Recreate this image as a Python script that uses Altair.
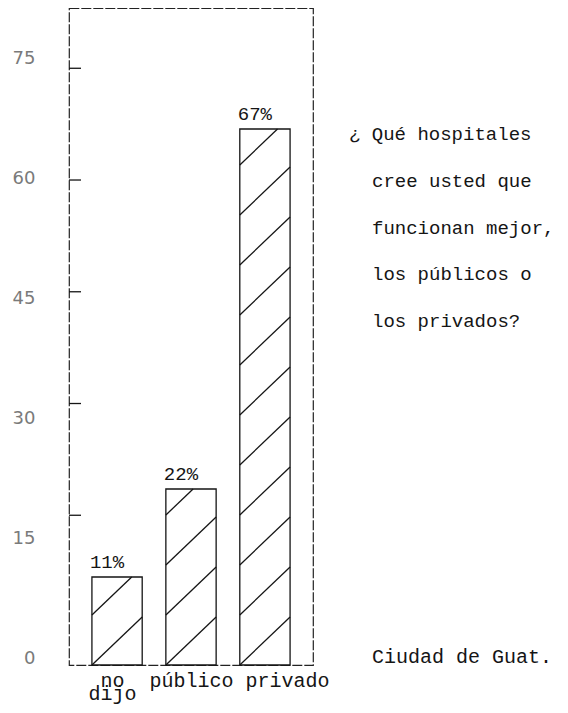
import json
import altair as alt
import pandas as pd

# ---- data ----
categories = ["no dijo", "público", "privado"]
percent = [11, 22, 67]
pct_labels = ["11%", "22%", "67%"]
y_values = [0, 15, 30, 45, 60, 75]
tick_values = [15, 30, 45, 60, 75]
question_first = "¿ Qué hospitales"
question_rest = ["cree usted que", "funcionan mejor,", "los públicos o", "los privados?"]
place = "Ciudad de Guat."

# ---- styling constants ----
HALF = 0.34        # half bar width (x units)
SPACING = 6.25     # vertical spacing of hatch lines (y units)
RISE = 6.0         # rise of a hatch line across the bar (y units)
MONO = "Liberation Mono"
INK = "#151515"
Y_DOMAIN = [0, 82.125]
X_DOMAIN = [-0.65, 2.65]

bars = pd.DataFrame({"pos": list(range(len(categories))), "cat": categories,
                     "pct": percent, "label": pct_labels})

segs = []
for i, v in enumerate(percent):
    left, right = i - HALF, i + HALF
    w = right - left
    k = 0
    while k * SPACING < v:
        y0 = k * SPACING
        y1 = y0 + RISE
        if y1 <= v:
            xe, ye = right, y1
        else:
            xe, ye = left + (v - y0) / RISE * w, v
        segs.append({"xa": left, "ya": y0, "xb": xe, "yb": ye})
        k += 1
hatch = pd.DataFrame(segs)

xscale = alt.Scale(domain=X_DOMAIN, nice=False, zero=False)
yscale = alt.Scale(domain=Y_DOMAIN, nice=False, zero=False)

cat_js = json.dumps(categories, ensure_ascii=False)

x_axis = alt.Axis(
    values=list(range(len(categories))),
    labelExpr=f"split({cat_js}[datum.value], ' ')",
    domain=False, ticks=False, tickSize=0, grid=False, title=None,
    labelFont=MONO, labelFontSize=20, labelColor=INK, labelPadding=5,
    labelLineHeight=13, labelFlush=False, labelOverlap=False,
    labelOffset={"condition": [{"test": "datum.value == 2", "value": 22},
                               {"test": "datum.value == 0", "value": -5}],
                 "value": 0},
)
y_axis = alt.Axis(
    values=y_values, domain=False, ticks=False, tickSize=0, grid=False, title=None,
    labelFont="DejaVu Sans", labelFontSize=18, labelColor="#7a7a7a",
    labelPadding=34, labelOffset=-7, labelFlush=False, labelOverlap=False,
)

base = alt.Chart(bars).transform_calculate(
    lo=f"datum.pos - {HALF}", hi=f"datum.pos + {HALF}", zero="0"
)

bar_layer = base.mark_rect(fill="white", stroke=INK, strokeWidth=1.3).encode(
    x=alt.X("lo:Q", scale=xscale, axis=x_axis),
    x2="hi:Q",
    y=alt.Y("zero:Q", scale=yscale, axis=y_axis),
    y2="pct:Q",
)

hatch_layer = alt.Chart(hatch).mark_rule(color=INK, strokeWidth=1.3).encode(
    x=alt.X("xa:Q", scale=xscale),
    x2="xb:Q",
    y=alt.Y("ya:Q", scale=yscale, axis=None),
    y2="yb:Q",
)

label_layer = base.mark_text(
    font=MONO, fontSize=19, color=INK, align="left", baseline="alphabetic", dx=-2, dy=-9
).encode(
    x=alt.X("lo:Q", scale=xscale),
    y=alt.Y("pct:Q", scale=yscale, axis=None),
    text="label:N",
)

# hand-drawn tick marks on the left frame (their own spacing in the reference)
tick_layer = alt.Chart(pd.DataFrame({"t": tick_values})).mark_rule(
    color=INK, strokeWidth=1.3
).encode(
    y=alt.Y("t:Q", scale=alt.Scale(domain=[-5.1, 83.09], nice=False, zero=False), axis=None),
    x=alt.value(0), x2=alt.value(12),
)

one = pd.DataFrame({"a": [0]})
q1 = alt.Chart(one).mark_text(
    text=question_first, font=MONO, fontSize=19, color=INK, align="left", baseline="alphabetic"
).encode(x=alt.value(280), y=alt.value(132))
q2 = alt.Chart(one).mark_text(
    text=question_rest, font=MONO, fontSize=19, color=INK, align="left",
    baseline="alphabetic", lineHeight=46.7
).encode(x=alt.value(303), y=alt.value(179))
q3 = alt.Chart(one).mark_text(
    text=place, font=MONO, fontSize=20, color=INK, align="left", baseline="alphabetic"
).encode(x=alt.value(303), y=alt.value(655))

chart = alt.layer(
    bar_layer, hatch_layer, label_layer, tick_layer, q1, q2, q3
).resolve_scale(y="independent").properties(
    width=244, height=657,
    autosize=alt.AutoSizeParams(type="none"),
    padding={"left": 61, "top": 0, "right": 247, "bottom": 40},
    background="white",
).configure_view(
    stroke="#222", strokeWidth=1.2, strokeDash=[10, 2]
)

chart.save("out.html", embed_options={"renderer": "svg", "actions": False})
